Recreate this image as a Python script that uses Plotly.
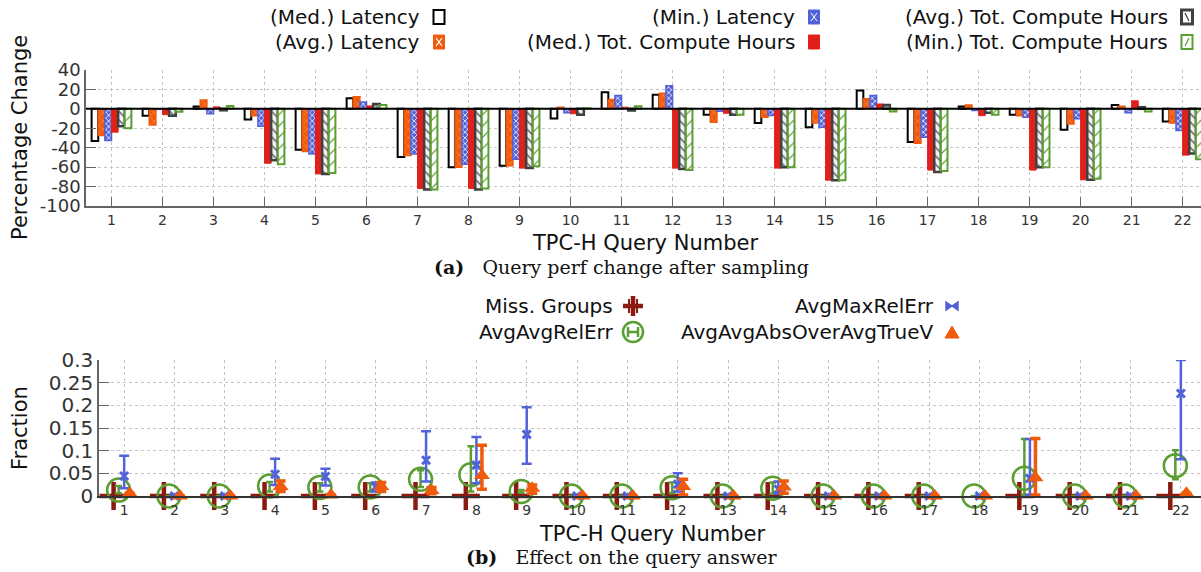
import plotly.graph_objects as go

W, H = 1201, 572

# ---------------- data ----------------
queries = list(range(1, 23))
tick_labels = [str(q) for q in queries]

# (a) percentage change per query
med_latency = [-33, -7, 2.5, -11, -42, 11, -49.5, -60, -58.5, -10, 17, 14.5, -6, -14.5, -19, 19, -34, 2.4, -6, -21.5, 4, -13]
avg_latency = [-27.5, -16.5, 9, -7, -44, 12.5, -48, -60, -58.5, 1.7, 9.7, 16, -13.8, -8.6, -14.5, 10.3, -35.5, 4, -7, -15.5, 2.8, -14.5]
min_latency = [-32.5, -0.5, -5, -18, -46.5, 7, -46.5, -57, -52, -4, 13.8, 23.8, -2.4, -6.9, -19, 13.8, -29.3, -1.7, -8.6, -10.3, -4, -22.4]
med_tch = [-24, -6, 2, -56, -67, 3, -82, -82, -61, -5, 1.7, -61, -4.5, -61, -73.4, 5, -63, -7, -63, -73, 8.3, -47.6]
avg_tch = [-18, -7, -1.5, -53, -67, 5, -83, -83, -61, -6, -1.7, -62, -6, -60, -73.4, 4, -65, -4, -60, -73, 1.7, -46]
min_tch = [-20, -3, 3, -57, -66, 4, -83, -82, -59, 0.7, 2.7, -63, -6, -60, -73.4, -2.8, -64, -6, -60, -72, -2.8, -52]

y_ticks_a = [40, 20, 0, -20, -40, -60, -80, -100]
y_tick_text_a = ["40", "20", "0", "-20", "-40", "-60", "-80", "-100"]

# (b) effect on the query answer
miss_groups = [0, 0, 0, 0, 0, 0, 0, 0, 0, 0, 0, 0, 0, 0, 0, 0, 0, None, 0, 0, 0, 0]

avg_avg_rel_err = [0.013, 0, 0, 0.022, 0.019, 0.02, 0.037, 0.047, 0.01, 0, 0, 0.018, 0, 0.017, 0, 0, 0, 0, 0.039, 0, 0, 0.067]
avg_avg_rel_err_hi = [0.022, 0, 0, 0.031, 0.028, 0.028, 0.057, 0.110, 0.013, 0, 0, 0.030, 0, 0.030, 0, 0, 0, 0, 0.126, 0, 0, 0.101]
avg_avg_rel_err_lo = [0.006, 0, 0, 0.010, 0.010, 0.010, 0.020, 0.010, 0.007, 0, 0, 0.006, 0, 0.005, 0, 0, 0, 0, 0.002, 0, 0, 0.037]

avg_max_rel_err = [0.044, 0, 0, 0.048, 0.043, 0.02, 0.079, 0.068, 0.136, 0, 0, 0.026, 0, 0.015, 0, 0, 0, 0, 0.039, 0, 0, 0.226]
avg_max_rel_err_hi = [0.089, 0, 0, 0.082, 0.060, 0.030, 0.143, 0.130, 0.196, 0, 0, 0.050, 0, 0.032, 0, 0, 0, 0, 0.126, 0, 0, 0.300]
avg_max_rel_err_lo = [0.017, 0, 0, 0.024, 0.023, 0.010, 0.032, 0.028, 0.071, 0, 0, 0.010, 0, 0.005, 0, 0, 0, 0, 0.002, 0, 0, 0.081]

avg_abs_over_true = [0.006, 0, 0, 0.021, 0.002, 0.021, 0.012, 0.045, 0.017, 0, 0, 0.021, 0, 0.020, 0, 0, 0, 0, 0.040, 0, 0, 0.006]
avg_abs_over_true_hi = [0.006, 0, 0, 0.033, 0.002, 0.030, 0.019, 0.112, 0.024, 0, 0, 0.037, 0, 0.033, 0, 0, 0, 0, 0.127, 0, 0, 0.006]
avg_abs_over_true_lo = [0.006, 0, 0, 0.010, 0.002, 0.010, 0.005, 0.015, 0.006, 0, 0, 0.002, 0, 0.006, 0, 0, 0, 0, 0.002, 0, 0, 0.006]

y_ticks_b = [0, 0.05, 0.1, 0.15, 0.2, 0.25, 0.3]
y_tick_text_b = ["0", "0.05", "0.1", "0.15", "0.2", "0.25", "0.3"]

# ---------------- style ----------------
BLACK = "#000000"
ORANGE = "#f05a0a"
BLUE = "#5262d8"
RED = "#e2201a"
GRAY = "#404040"
GREEN = "#5b9e32"
DARKRED = "#8b1a10"
FONT = "DejaVu Sans"
SERIF = "DejaVu Serif"
GRID = "#c4c4c4"

def px(x):
    return x / W

def py(y):
    return 1 - y / H

fig = go.Figure()

bar_specs = [
    ("(Med.) Latency", med_latency, dict(color="white", line=dict(color=BLACK, width=2))),
    ("(Avg.) Latency", avg_latency, dict(color=ORANGE, line=dict(color=ORANGE, width=1.5),
                                           pattern=dict(shape="x", fgcolor="rgba(255,255,255,0.55)", bgcolor=ORANGE, size=6, solidity=0.12, fillmode="replace"))),
    ("(Min.) Latency", min_latency, dict(color=BLUE, line=dict(color=BLUE, width=1.5),
                                           pattern=dict(shape="x", fgcolor="white", bgcolor=BLUE, size=4, solidity=0.35, fillmode="replace"))),
    ("(Med.) Tot. Compute Hours", med_tch, dict(color=RED, line=dict(color=RED, width=1))),
    ("(Avg.) Tot. Compute Hours", avg_tch, dict(color="white", line=dict(color=GRAY, width=2.5),
                                                  pattern=dict(shape="\\", fgcolor="#666666", bgcolor="#f2f2f2", size=6, solidity=0.25, fillmode="replace"))),
    ("(Min.) Tot. Compute Hours", min_tch, dict(color="white", line=dict(color=GREEN, width=2),
                                                  pattern=dict(shape="/", fgcolor=GREEN, bgcolor="white", size=8, solidity=0.15, fillmode="replace"))),
]
for name, vals, marker in bar_specs:
    fig.add_trace(go.Bar(x=queries, y=vals, name=name, marker=marker, showlegend=False,
                         xaxis="x", yaxis="y"))

# (b) traces
off_miss, off_rel, off_max, off_abs = -0.21, -0.11, 0.0, 0.11

def plus(vals, hi):
    return [h - v for v, h in zip(vals, hi)]

def minus(vals, lo):
    return [v - l for v, l in zip(vals, lo)]

fig.add_trace(go.Scatter(
    x=[q + off_miss for q in queries], y=miss_groups, mode="markers", name="Miss. Groups",
    marker=dict(symbol="cross-thin", size=20, color=DARKRED, line=dict(color=DARKRED, width=4.5)),
    cliponaxis=False, showlegend=False, xaxis="x2", yaxis="y2"))
fig.add_trace(go.Scatter(
    x=[q + off_rel for q in queries], y=avg_avg_rel_err, mode="markers", name="AvgAvgRelErr",
    marker=dict(symbol="circle-open", size=23, color=GREEN, line=dict(color=GREEN, width=2.5)),
    error_y=dict(type="data", symmetric=False, array=plus(avg_avg_rel_err, avg_avg_rel_err_hi),
                 arrayminus=minus(avg_avg_rel_err, avg_avg_rel_err_lo), color=GREEN, thickness=2.5, width=3.5),
    cliponaxis=False, showlegend=False, xaxis="x2", yaxis="y2"))
fig.add_trace(go.Scatter(
    x=[q + off_max for q in queries], y=avg_max_rel_err, mode="markers", name="AvgMaxRelErr",
    marker=dict(symbol="x-thin", size=8, color=BLUE, line=dict(color=BLUE, width=3)),
    error_y=dict(type="data", symmetric=False, array=plus(avg_max_rel_err, avg_max_rel_err_hi),
                 arrayminus=minus(avg_max_rel_err, avg_max_rel_err_lo), color=BLUE, thickness=2.5, width=5),
    cliponaxis=False, showlegend=False, xaxis="x2", yaxis="y2"))
fig.add_trace(go.Scatter(
    x=[q + off_abs for q in queries], y=avg_abs_over_true, mode="markers", name="AvgAvgAbsOverAvgTrueV",
    marker=dict(symbol="triangle-up", size=14, color=ORANGE),
    error_y=dict(type="data", symmetric=False, array=plus(avg_abs_over_true, avg_abs_over_true_hi),
                 arrayminus=minus(avg_abs_over_true, avg_abs_over_true_lo), color=ORANGE, thickness=3.5, width=5),
    cliponaxis=False, showlegend=False, xaxis="x2", yaxis="y2"))

# ---------------- layout ----------------
axis_common = dict(showgrid=True, gridcolor=GRID, griddash="dot", gridwidth=1, zeroline=False,
                   showline=True, automargin=False, ticks="inside")

fig.update_layout(
    width=W, height=H, margin=dict(l=0, r=0, t=0, b=0),
    paper_bgcolor="white", plot_bgcolor="white",
    barmode="group", bargap=0.22, bargroupgap=0.0,
    font=dict(family=FONT, color="#222"),
    xaxis=dict(domain=[px(86), 1], range=[0.5, 22.36], tickmode="array", tickvals=queries, ticktext=tick_labels,
               ticklen=9, tickcolor="#666", linecolor="#666", linewidth=1.5,
               tickfont=dict(size=14, color="#333"), anchor="y", **axis_common),
    yaxis=dict(domain=[py(206), py(70)], range=[-100, 40], tickmode="array", tickvals=y_ticks_a, ticktext=y_tick_text_a,
               ticklen=10, tickcolor="#666", linecolor="#666", linewidth=1.5,
               tickfont=dict(size=18, color="#333"), anchor="x", **axis_common),
    xaxis2=dict(domain=[px(99), 1], range=[0.5, 22.4], tickmode="array", tickvals=queries, ticktext=tick_labels,
                ticklen=0, linecolor="#333", linewidth=1.5,
                tickfont=dict(size=14, color="#333"), anchor="y2", **axis_common),
    yaxis2=dict(domain=[py(496), py(360)], range=[0, 0.3], tickmode="array", tickvals=y_ticks_b, ticktext=y_tick_text_b,
                ticklen=10, tickcolor="#666", linecolor="#666", linewidth=1.5,
                tickfont=dict(size=20, color="#333"), anchor="x2", **axis_common),
)

shapes = [
    # zero reference line in (a)
    dict(type="line", xref="x domain", yref="y", x0=0, x1=1, y0=0, y1=0,
         line=dict(color=BLACK, width=2), layer="above"),
]

annotations = []

def txt(text, x, y, size, anchor="right", family=FONT, angle=0, color="#111"):
    annotations.append(dict(text=text, x=px(x), y=py(y), xref="paper", yref="paper",
                            xanchor=anchor, yanchor="middle", showarrow=False, textangle=angle,
                            font=dict(family=family, size=size, color=color)))

# ---- legend (a) ----
leg_a = [
    ("(Med.) Latency", 422, 17), ("(Avg.) Latency", 422, 42),
    ("(Min.) Latency", 797, 17), ("(Med.) Tot. Compute Hours", 797, 42),
    ("(Avg.) Tot. Compute Hours", 1170, 17), ("(Min.) Tot. Compute Hours", 1170, 42),
]
for label, tx, ty in leg_a:
    txt(label, tx, ty, 20)

def rect(cx, cy, fill, line, lw, w=11, h=14):
    shapes.append(dict(type="rect", xref="paper", yref="paper",
                       x0=px(cx - w / 2), x1=px(cx + w / 2), y0=py(cy + h / 2), y1=py(cy - h / 2),
                       fillcolor=fill, line=dict(color=line, width=lw)))

def seg(x0, y0, x1, y1, color, lw):
    shapes.append(dict(type="line", xref="paper", yref="paper", x0=px(x0), y0=py(y0), x1=px(x1), y1=py(y1),
                       line=dict(color=color, width=lw)))

rect(439, 17, "white", BLACK, 2)
rect(439, 42, ORANGE, ORANGE, 1)
seg(436, 38, 442, 46, "white", 1.2)
seg(442, 38, 436, 46, "white", 1.2)
rect(814, 17, BLUE, BLUE, 1)
seg(811, 13, 817, 21, "white", 1)
seg(817, 13, 811, 21, "white", 1)
rect(814, 42, RED, RED, 1)
rect(1187, 17, "white", GRAY, 3)
seg(1185, 13, 1189, 21, GRAY, 1.2)
rect(1187, 42, "white", GREEN, 2)
seg(1185, 46, 1189, 38, GREEN, 1.2)

# ---- legend (b) ----
txt("Miss. Groups", 615, 306, 20)
txt("AvgAvgRelErr", 615, 332, 20)
txt("AvgMaxRelErr", 936, 306, 20)
txt("AvgAvgAbsOverAvgTrueV", 936, 332, 20)

# plus glyph
seg(623, 306, 643, 306, DARKRED, 4.5)
seg(633, 296, 633, 316, DARKRED, 4.5)
seg(629, 299, 629, 313, DARKRED, 2)
seg(637, 299, 637, 313, DARKRED, 2)
# circle glyph with bar
shapes.append(dict(type="circle", xref="paper", yref="paper", x0=px(623), x1=px(643), y0=py(342), y1=py(322),
                   line=dict(color=GREEN, width=2.5)))
seg(628, 332, 638, 332, GREEN, 2.5)
seg(628, 327, 628, 337, GREEN, 2.5)
seg(638, 327, 638, 337, GREEN, 2.5)
# bowtie glyph
shapes.append(dict(type="path", xref="paper", yref="paper",
                   path=f"M {px(946)} {py(302)} L {px(952)} {py(306)} L {px(958)} {py(302)} L {px(958)} {py(310)} L {px(952)} {py(306)} L {px(946)} {py(310)} Z",
                   fillcolor=BLUE, line=dict(color=BLUE, width=1.5)))
# triangle glyph
shapes.append(dict(type="path", xref="paper", yref="paper",
                   path=f"M {px(945)} {py(338)} L {px(952)} {py(326)} L {px(959)} {py(338)} Z",
                   fillcolor=ORANGE, line=dict(color=ORANGE, width=1)))

# ---- titles & captions ----
txt("Percentage Change", 20, 138, 21, anchor="center", angle=-90)
txt("TPC-H Query Number", 645, 243, 21, anchor="center")
txt("<b>(a)</b>\u00a0\u00a0\u00a0Query perf change after sampling", 432, 267, 19, anchor="left", family=SERIF)

txt("Fraction", 20, 428, 21, anchor="center", angle=-90)
txt("TPC-H Query Number", 652, 534, 21, anchor="center")
txt("<b>(b)</b>\u00a0\u00a0\u00a0Effect on the query answer", 464, 557, 19, anchor="left", family=SERIF)

fig.update_layout(shapes=shapes, annotations=annotations)

fig.write_html("out.html", config={"displayModeBar": False},
               post_script="document.body.style.margin='0px';document.body.style.overflow='hidden';")
